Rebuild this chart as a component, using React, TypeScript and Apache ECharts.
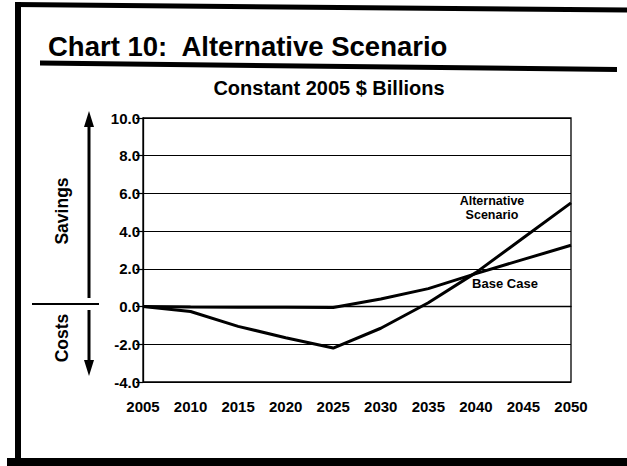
import React, { useEffect, useRef } from "react";
import * as echarts from "echarts";

const years: number[] = [2005, 2010, 2015, 2020, 2025, 2030, 2035, 2040, 2045, 2050];
const alternativeScenario: number[] = [0, -0.26, -1.05, -1.65, -2.2, -1.15, 0.2, 1.8, 3.65, 5.5];
const baseCase: number[] = [0, -0.02, -0.03, -0.04, -0.05, 0.4, 0.95, 1.75, 2.5, 3.25];
const yTicks = { min: -4, max: 10, interval: 2 };

const titleText = "Chart 10:  Alternative Scenario";
const subtitleText = "Constant 2005 $ Billions";

const SANS = "'Liberation Sans', Arial, Helvetica, sans-serif";

export default function App() {
  const ref = useRef<HTMLDivElement>(null);
  useEffect(() => {
    if (!ref.current) return;
    const chart = echarts.init(ref.current, undefined, { renderer: "svg" });
    const pair = (vals: number[]) => years.map((y, i) => [y, vals[i]]);
    chart.setOption({
      animation: false,
      backgroundColor: "#ffffff",
      grid: {
        left: 143,
        right: 56,
        top: 118,
        bottom: 84,
        show: true,
        borderColor: "#000",
        borderWidth: 1.3,
      },
      xAxis: {
        type: "value",
        min: 2005,
        max: 2050,
        interval: 5,
        splitLine: { show: false },
        axisLine: { lineStyle: { color: "#000", width: 1.3 } },
        axisTick: { show: false },
        axisLabel: {
          color: "#000",
          fontFamily: SANS,
          fontWeight: "bold",
          fontSize: 15,
          margin: 17,
          formatter: (v: number) => String(v),
        },
      },
      yAxis: {
        type: "value",
        min: yTicks.min,
        max: yTicks.max,
        interval: yTicks.interval,
        splitLine: { show: true, lineStyle: { color: "#000", width: 1.2 } },
        axisLine: { show: true, lineStyle: { color: "#000", width: 1.3 } },
        axisTick: { show: true, length: 7, lineStyle: { color: "#000", width: 1.2 } },
        axisLabel: {
          color: "#000",
          fontFamily: SANS,
          fontWeight: "bold",
          fontSize: 15,
          margin: 3,
          formatter: (v: number) => v.toFixed(1),
        },
      },
      series: [
        {
          name: "Alternative Scenario",
          type: "line",
          data: pair(alternativeScenario),
          showSymbol: false,
          lineStyle: { color: "#000", width: 3 },
          z: 5,
        },
        {
          name: "Base Case",
          type: "line",
          data: pair(baseCase),
          showSymbol: false,
          lineStyle: { color: "#000", width: 3 },
          z: 5,
        },
      ],
      graphic: [
        // frame
        { type: "rect", shape: { x: 15, y: 2, width: 6, height: 464 }, style: { fill: "#000" } },
        { type: "line", shape: { x1: 15, y1: 4.5, x2: 627, y2: 10 }, style: { stroke: "#000", lineWidth: 5 } },
        { type: "rect", shape: { x: 7, y: 458, width: 620, height: 8 }, style: { fill: "#000" } },
        // title
        {
          type: "text",
          x: 48,
          y: 46,
          style: {
            text: titleText,
            fontFamily: SANS,
            fontWeight: "bold",
            fontSize: 27.5,
            fill: "#000",
            textVerticalAlign: "middle",
            textAlign: "left",
          },
        },
        { type: "line", shape: { x1: 40, y1: 63, x2: 617, y2: 69.5 }, style: { stroke: "#000", lineWidth: 5 } },
        {
          type: "text",
          x: 329,
          y: 88,
          style: {
            text: subtitleText,
            fontFamily: SANS,
            fontWeight: "bold",
            fontSize: 20,
            fill: "#000",
            textVerticalAlign: "middle",
            textAlign: "center",
          },
        },
        // side annotations
        {
          type: "text",
          x: 62,
          y: 211,
          rotation: Math.PI / 2,
          style: {
            text: "Savings",
            fontFamily: SANS,
            fontWeight: "bold",
            fontSize: 17.5,
            fill: "#000",
            textAlign: "center",
            textVerticalAlign: "middle",
          },
        },
        {
          type: "text",
          x: 62,
          y: 338,
          rotation: Math.PI / 2,
          style: {
            text: "Costs",
            fontFamily: SANS,
            fontWeight: "bold",
            fontSize: 17.5,
            fill: "#000",
            textAlign: "center",
            textVerticalAlign: "middle",
          },
        },
        { type: "line", shape: { x1: 89, y1: 124, x2: 89, y2: 298 }, style: { stroke: "#000", lineWidth: 3 } },
        { type: "polygon", shape: { points: [[89, 111], [84, 127], [94, 127]] }, style: { fill: "#000" } },
        { type: "line", shape: { x1: 89, y1: 310, x2: 89, y2: 363 }, style: { stroke: "#000", lineWidth: 3 } },
        { type: "polygon", shape: { points: [[89, 376], [84, 360], [94, 360]] }, style: { fill: "#000" } },
        { type: "line", shape: { x1: 32, y1: 304, x2: 99, y2: 304 }, style: { stroke: "#000", lineWidth: 2 } },
        // series labels
        {
          type: "text",
          x: 492,
          y: 201,
          style: {
            text: "Alternative",
            fontFamily: SANS,
            fontWeight: "bold",
            fontSize: 12.5,
            fill: "#000",
            textAlign: "center",
            textVerticalAlign: "middle",
          },
        },
        {
          type: "text",
          x: 492,
          y: 215,
          style: {
            text: "Scenario",
            fontFamily: SANS,
            fontWeight: "bold",
            fontSize: 12.5,
            fill: "#000",
            textAlign: "center",
            textVerticalAlign: "middle",
          },
        },
        {
          type: "text",
          x: 505,
          y: 283,
          style: {
            text: "Base Case",
            fontFamily: SANS,
            fontWeight: "bold",
            fontSize: 13,
            fill: "#000",
            textAlign: "center",
            textVerticalAlign: "middle",
          },
        },
      ],
    });
    return () => chart.dispose();
  }, []);
  return <div ref={ref} style={{ width: 627, height: 466, position: "absolute", left: 0, top: 0 }} />;
}
